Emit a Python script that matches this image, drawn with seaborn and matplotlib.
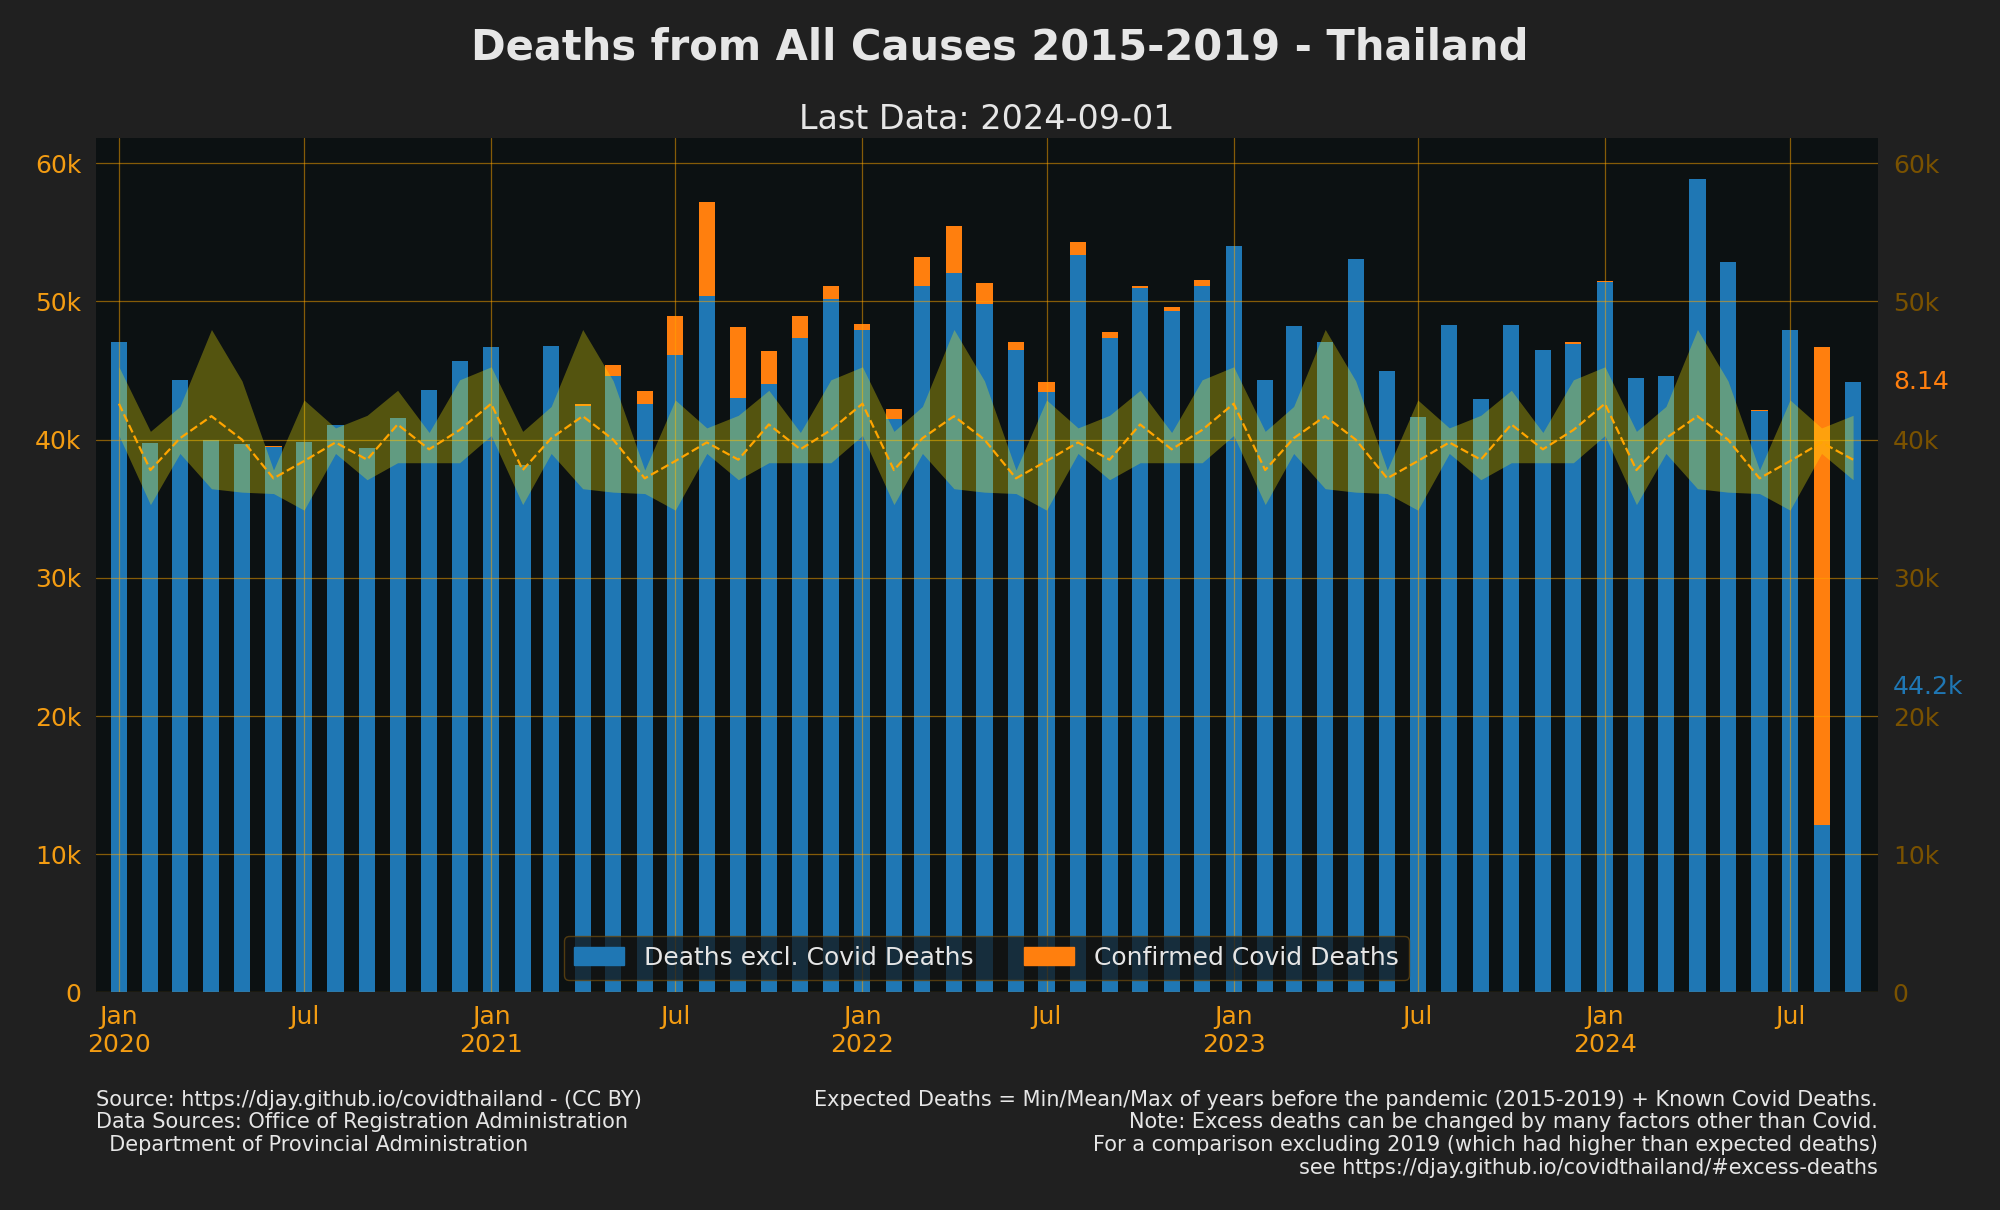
import datetime as dt

import matplotlib
matplotlib.use("Agg")
import matplotlib.pyplot as plt
import matplotlib.dates as mdates
import matplotlib.transforms as mtransforms
from matplotlib.patches import Patch
from matplotlib.ticker import FuncFormatter, MultipleLocator
import numpy as np
import pandas as pd
import seaborn as sns

# ============================================================
# Data, monthly Jan 2020 - Sep 2024
# ============================================================

start_year, start_month, n_months = 2020, 1, 57

deaths_excl_covid = [
    47100, 39750, 44300, 40000, 39700, 39500, 39800, 41050, 39400, 41600, 43600, 45700,  # 2020
    46700, 38200, 46800, 42400, 44600, 42600, 46100, 50400, 43000, 44000, 47350, 50200,  # 2021
    47900, 41500, 51100, 52050, 49800, 46500, 43450, 53350, 47350, 50950, 49300, 51100,  # 2022
    54000, 44300, 48200, 47100, 53050, 45000, 41650, 48300, 42950, 48300, 46500, 46950,  # 2023
    51400, 44450, 44600, 58850, 52850, 42100, 47900, 12100, 44200,                       # 2024
]

covid_deaths = [
    0, 0, 0, 0, 0, 70, 0, 0, 0, 0, 0, 0,
    0, 0, 0, 150, 800, 900, 2850, 6800, 5150, 2450, 1600, 950,
    500, 700, 2150, 3400, 1500, 600, 700, 950, 450, 200, 300, 450,
    0, 0, 0, 0, 0, 0, 0, 0, 0, 0, 0, 80,
    100, 0, 0, 0, 0, 50, 0, 34600, 0,
]

# 2015-2019 baseline by calendar month (Jan..Dec)
expected_min = [40300, 35300, 39000, 36450, 36200, 36100, 34900, 39000, 37100, 38330, 38330, 38330]
expected_mean = [42600, 37800, 40100, 41700, 40000, 37200, 38450, 39800, 38550, 41100, 39300, 40700]
expected_max = [45270, 40600, 42400, 47970, 44250, 37800, 42870, 40850, 41760, 43570, 40520, 44330]

# ============================================================
# Build frame
# ============================================================

months = pd.date_range(dt.date(start_year, start_month, 1), periods=n_months, freq="MS")
df = pd.DataFrame({
    "date": months,
    "x": mdates.date2num(months.to_pydatetime()),
    "excl": deaths_excl_covid,
    "covid": covid_deaths,
})
df["total"] = df["excl"] + df["covid"]
df["exp_min"] = [expected_min[m - 1] for m in df["date"].dt.month]
df["exp_mean"] = [expected_mean[m - 1] for m in df["date"].dt.month]
df["exp_max"] = [expected_max[m - 1] for m in df["date"].dt.month]

# ============================================================
# Style
# ============================================================

BLUE = "#1f77b4"
ORANGE = "#ff7f0e"
TICK = "#f39c12"
TICK_R = "#7a5200"
FIG_BG = "#202020"
AX_BG = "#0c1112"
TEXT = "#e6e6e6"

sns.set_style("dark")
plt.rcParams["font.family"] = ["DejaVu Sans"]

fig = plt.figure(figsize=(20, 12.1), dpi=100, facecolor=FIG_BG)
ax = fig.add_axes([0.04775, 0.1798, 0.891, 0.7063])
ax.set_facecolor(AX_BG)

# stacked bars: total (orange) underneath, excl covid (blue) on top
sns.barplot(data=df, x="x", y="total", native_scale=True, color=ORANGE,
            width=0.565, errorbar=None, saturation=1, linewidth=0, ax=ax)
sns.barplot(data=df, x="x", y="excl", native_scale=True, color=BLUE,
            width=0.565, errorbar=None, saturation=1, linewidth=0, ax=ax)

# expected range and mean
ax.fill_between(df["x"], df["exp_min"], df["exp_max"], color="#fcf00b", alpha=0.3,
                linewidth=0, zorder=3)
sns.lineplot(data=df, x="x", y="exp_mean", color="orange", linestyle="--",
             linewidth=1.6, ax=ax, zorder=4)

# ============================================================
# Axes
# ============================================================

ax.set_xlim(mdates.date2num(dt.datetime(2019, 12, 9)), mdates.date2num(dt.datetime(2024, 9, 25)))
ax.set_ylim(0, 61840)
ax.set_xlabel("")
ax.set_ylabel("")

ax.xaxis.set_major_locator(mdates.MonthLocator(bymonth=[1, 7]))


def fmt_month(x, pos):
    d = mdates.num2date(x)
    if d.month == 1:
        return f"Jan\n{d.year}"
    return d.strftime("%b")


def fmt_k(v, pos):
    return "0" if v == 0 else f"{int(v / 1000)}k"


ax.xaxis.set_major_formatter(FuncFormatter(fmt_month))
ax.yaxis.set_major_locator(MultipleLocator(10000))
ax.yaxis.set_major_formatter(FuncFormatter(fmt_k))
ax.tick_params(axis="x", colors=TICK, labelsize=18, length=0, pad=9)
ax.tick_params(axis="y", colors=TICK, labelsize=18, length=0, pad=10)

ax.grid(True, color="orange", alpha=0.5, linewidth=0.9)
ax.set_axisbelow(False)
for line in ax.get_xgridlines() + ax.get_ygridlines():
    line.set_zorder(2.5)
for s in ax.spines.values():
    s.set_visible(False)

ax2 = ax.twinx()
ax2.set_ylim(ax.get_ylim())
ax2.yaxis.set_major_locator(MultipleLocator(10000))
ax2.yaxis.set_major_formatter(FuncFormatter(fmt_k))
ax2.tick_params(axis="y", colors=TICK_R, labelsize=18, length=0, pad=11)
ax2.grid(False)
for s in ax2.spines.values():
    s.set_visible(False)

# right side value labels
trans = mtransforms.blended_transform_factory(ax.transAxes, ax.transData)
ax.text(1.0087, 44200, "8.14", transform=trans, color=ORANGE, fontsize=18, va="center", ha="left")
ax.text(1.0087, 22100, "44.2k", transform=trans, color=BLUE, fontsize=18, va="center", ha="left")

# legend
handles = [Patch(color=BLUE, label="Deaths excl. Covid Deaths"),
           Patch(color=ORANGE, label="Confirmed Covid Deaths")]
leg = ax.legend(handles=handles, loc="lower center", ncol=2, fontsize=18,
                facecolor="#141414", edgecolor="#6a4a10", framealpha=0.75)
for t in leg.get_texts():
    t.set_color(TEXT)
leg.set_zorder(10)

# titles
fig.text(0.5, 0.961, "Deaths from All Causes 2015-2019 - Thailand", ha="center", va="center",
         fontsize=30, fontweight="bold", color=TEXT)
ax.set_title("Last Data: 2024-09-01", fontsize=24, color=TEXT, pad=6)

# footers
fig.text(0.0478, 0.0995,
         "Source: https://djay.github.io/covidthailand - (CC BY)\n"
         "Data Sources: Office of Registration Administration\n"
         "  Department of Provincial Administration",
         ha="left", va="top", fontsize=15, color=TEXT, linespacing=1.17)
fig.text(0.9388, 0.0995,
         "Expected Deaths = Min/Mean/Max of years before the pandemic (2015-2019) + Known Covid Deaths.\n"
         "Note: Excess deaths can be changed by many factors other than Covid.\n"
         "For a comparison excluding 2019 (which had higher than expected deaths)\n"
         "see https://djay.github.io/covidthailand/#excess-deaths",
         ha="right", va="top", fontsize=15, color=TEXT, linespacing=1.17, multialignment="right")

fig.savefig("out.png", dpi=100, facecolor=FIG_BG)
